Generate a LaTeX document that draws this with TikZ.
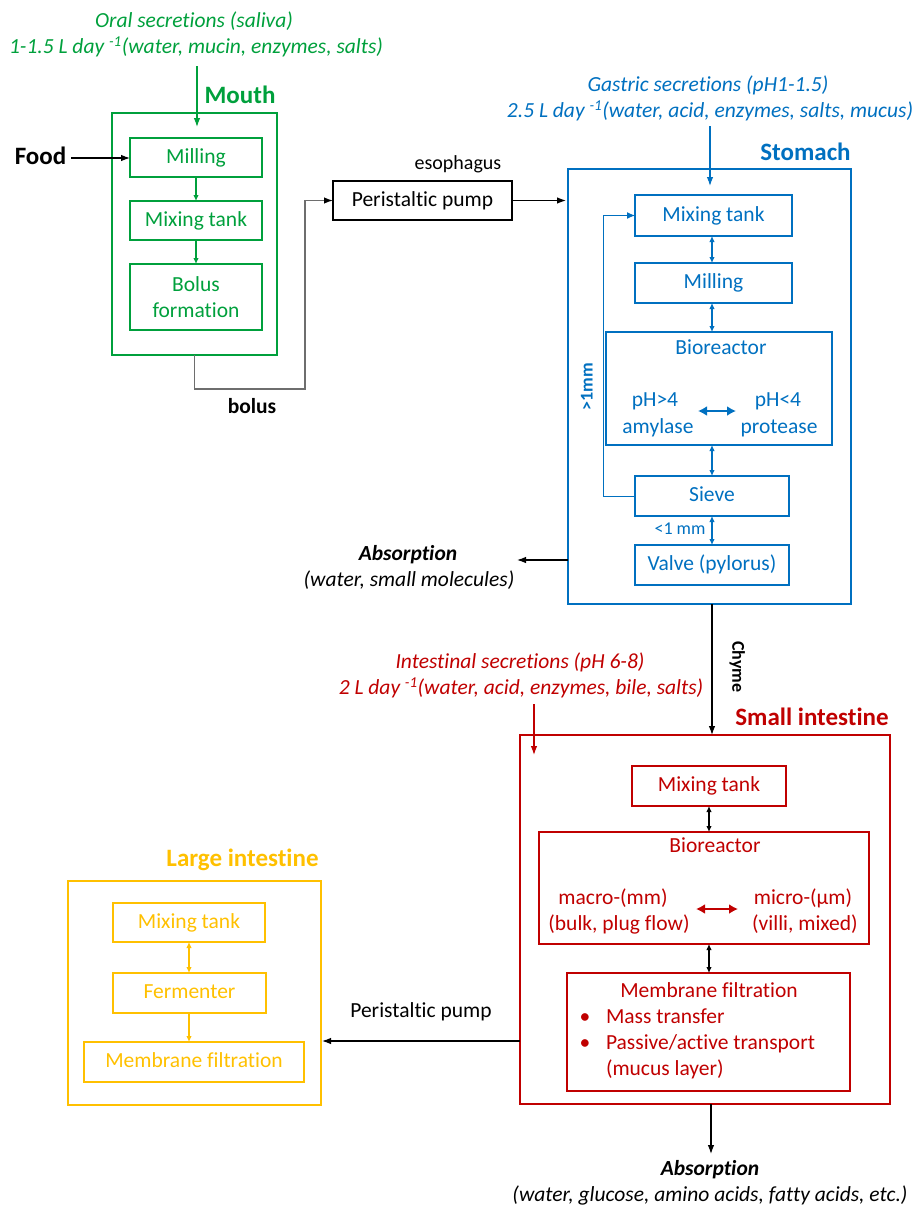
\documentclass[tikz,border=0pt]{standalone}
\usepackage{fontspec}
\setmainfont{Carlito}[Ligatures={NoCommon}]
\usetikzlibrary{arrows.meta}
\definecolor{cgreen}{RGB}{0,160,60}
\definecolor{cblue}{RGB}{0,112,192}
\definecolor{cred}{RGB}{192,0,0}
\definecolor{cyel}{RGB}{255,192,0}
\definecolor{cgray}{RGB}{110,110,110}
\begin{document}
\begin{tikzpicture}[x=1pt,y=-1pt,
  every node/.style={inner sep=0pt, outer sep=0pt},
  txt/.style={font=\fontsize{21.5}{26}\selectfont, text height=15.5pt, text depth=4.3pt},
  itxt/.style={font=\fontsize{21.5}{26}\selectfont\itshape, text height=15.5pt, text depth=4.3pt},
  bitxt/.style={font=\fontsize{21.5}{26}\selectfont\bfseries\itshape, text height=15.5pt, text depth=4.3pt},
  btxt/.style={font=\fontsize{21.5}{26}\selectfont\bfseries, text height=15.5pt, text depth=4.3pt},
  ttl/.style={font=\fontsize{25}{30}\selectfont\bfseries, text height=18pt, text depth=5pt},
  smalltxt/.style={font=\fontsize{18}{22}\selectfont, text height=13pt, text depth=3.6pt},
  smallb/.style={font=\fontsize{18}{22}\selectfont\bfseries, text height=13pt, text depth=3.6pt},
  box/.style={draw, line width=1.8pt, txt},
  conn/.style={line width=1.1pt, -{Latex[length=9pt,width=6.5pt]}},
  sconn/.style={line width=1.1pt, -{Latex[length=6pt,width=5.5pt]}},
  dbl/.style={line width=1.1pt, {Latex[length=6pt,width=5.5pt]}-{Latex[length=6pt,width=5.5pt]}},
  thickdbl/.style={line width=2.6pt, {Latex[length=9pt,width=10pt]}-{Latex[length=9pt,width=10pt]}},
]
\useasboundingbox (0,0) rectangle (917,1208);

% ---------------- Mouth ----------------
\node[itxt, text=cgreen] (oral1) at (194,22) {Oral secretions (saliva)};
\node[itxt, text=cgreen] (oral2) at (196,48) {1-1.5 L day \textsuperscript{-1}(water, mucin, enzymes, salts)};
\node[ttl, text=cgreen] (mouthlbl) at (240,97) {Mouth};
\node[box, draw=cgreen, minimum width=165, minimum height=242] (mouthbox) at (194.5,234) {};
\node[box, draw=cgreen, text=cgreen, minimum width=132, minimum height=39] (m1) at (196,157.5) {Milling};
\node[box, draw=cgreen, text=cgreen, minimum width=132, minimum height=39] (m2) at (196,220.5) {Mixing tank};
\node[draw=cgreen, line width=1.8pt, text=cgreen, font=\fontsize{21.5}{26}\selectfont, align=center, minimum width=132, minimum height=66] (m3) at (196,297) {Bolus\\formation};
\coordinate (oraltop) at (197,66);
\coordinate (oralend) at (197,127);
\draw[conn, cgreen] (oraltop) -- (oralend);
\draw[sconn, cgreen] (m1) -- (m2);
\draw[sconn, cgreen] (m2) -- (m3);

\node[ttl] (food) at (40.5,158) {Food};
\draw[conn] ([xshift=5pt]food.east) -- (food.east -| m1.west);

% bolus / esophagus
\node[box, minimum width=179, minimum height=39] (pump) at (422.5,200.5) {Peristaltic pump};
\node[font=\fontsize{20}{24}\selectfont, text height=14.4pt, text depth=4pt] (esoph) at (458,164) {esophagus};
\coordinate (bc) at (305,389);
\draw[line width=1.3pt, cgray, -{Latex[length=9pt,width=6.5pt,color=black]}] (mouthbox.south) |- (bc) |- (pump.west);
\node[btxt] (bolus) at (252,408) {bolus};

% ---------------- Stomach ----------------
\node[itxt, text=cblue] (gas1) at (708,86) {Gastric secretions (pH1-1.5)};
\node[itxt, text=cblue] (gas2) at (710,112) {2.5 L day \textsuperscript{-1}(water, acid, enzymes, salts, mucus)};
\node[ttl, text=cblue] (stomlbl) at (805.5,154) {Stomach};
\node[box, draw=cblue, minimum width=283, minimum height=435] (stomach) at (709.5,386.5) {};
\coordinate (gastop) at (710,126);
\coordinate (gasend) at (710,186);
\draw[conn, cblue] (gastop) -- (gasend);
\draw[conn] (pump.east) -- ([xshift=-2pt]pump.east -| stomach.west);

\node[box, draw=cblue, text=cblue, minimum width=157, minimum height=41] (s1) at (713.5,215.5) {Mixing tank};
\node[box, draw=cblue, text=cblue, minimum width=157, minimum height=40] (s2) at (713.5,283) {Milling};
\node[box, draw=cblue, minimum width=226, minimum height=113] (s3) at (719,388.5) {};
\node[box, draw=cblue, text=cblue, minimum width=154, minimum height=40] (s4) at (712,496) {Sieve};
\node[box, draw=cblue, text=cblue, minimum width=154, minimum height=40] (s5) at (712,565) {Valve (pylorus)};
\node[txt, text=cblue] (s3t) at (721,349) {Bioreactor};
\node[txt, text=cblue] (pha) at (655,401) {pH>4};
\node[txt, text=cblue] (amy) at (658,428) {amylase};
\node[txt, text=cblue] (phb) at (778,401) {pH<4};
\node[txt, text=cblue] (pro) at (779,428) {protease};
\coordinate (sa) at (698,411);
\coordinate (sb) at (736,411);
\draw[thickdbl, cblue] (sa) -- (sb);
\draw[dbl, cblue] (s1.south -| s4) -- (s2.north -| s4);
\draw[dbl, cblue] (s2.south -| s4) -- (s3.north -| s4);
\draw[dbl, cblue] (s3.south -| s4) -- (s4.north);
\draw[dbl, cblue] (s4.south) -- (s5.north);
\node[smalltxt, text=cblue] (lt1) at (680,530) {<1 mm};
\draw[line width=1pt, cblue, -{Latex[length=8pt,width=7pt]}] (s4.west) -- ++(-32,0) |- (s1.west);
\node[smallb, text=cblue, rotate=90] (gt1) at (588,387) {>1mm};

\coordinate (absS) at (517,560);
\draw[conn] (stomach.west |- absS) -- (absS);
\node[bitxt] (abs1) at (408,555) {Absorption};
\node[itxt] (abs1b) at (409,581) {(water, small molecules)};

% ---------------- Small intestine ----------------
\node[box, draw=cred, minimum width=370, minimum height=369] (si) at (705,919.5) {};
\node[ttl, text=cred] (silbl) at (812,719) {Small intestine};
\draw[conn] (stomach.south -| s4) -- (si.north -| s4);
\node[smallb, rotate=-90] (chyme) at (737,667) {Chyme};
\node[itxt, text=cred] (int1) at (520,663) {Intestinal secretions (pH 6-8)};
\node[itxt, text=cred] (int2) at (521,689) {2 L day \textsuperscript{-1}(water, acid, enzymes, bile, salts)};
\coordinate (inttop) at (534,704);
\coordinate (intend) at (534,755);
\draw[conn, cred] (inttop) -- (intend);

\node[box, draw=cred, text=cred, minimum width=154, minimum height=40] (i1) at (709,786) {Mixing tank};
\node[box, draw=cred, minimum width=330, minimum height=112] (i2) at (704,888) {};
\node[box, draw=cred, minimum width=283, minimum height=118] (i3) at (708.5,1032) {};
\node[txt, text=cred] (i2t) at (715,847) {Bioreactor};
\node[txt, text=cred] (mac1) at (613,899) {macro-(mm)};
\node[txt, text=cred] (mac2) at (619,925) {(bulk, plug flow)};
\node[txt, text=cred] (mic1) at (803,899) {micro-(µm)};
\node[txt, text=cred] (mic2) at (805,925) {(villi, mixed)};
\coordinate (ia) at (696,909);
\coordinate (ib) at (738,909);
\draw[thickdbl, cred] (ia) -- (ib);
\draw[dbl] (i1.south) -- (i1.south |- i2.north);
\draw[dbl] (i2.south -| i1) -- (i3.north -| i1);
\node[txt, text=cred] (i3t) at (709,992) {Membrane filtration};
\node[txt, text=cred] (bul1) at (585,1018) {•};
\node[txt, text=cred] (bul2) at (585,1044) {•};
\node[txt, text=cred, anchor=west] (it1) at (606,1018) {Mass transfer};
\node[txt, text=cred, anchor=west] (it2) at (606,1044) {Passive/active transport};
\node[txt, text=cred, anchor=west] (it3) at (606,1070) {(mucus layer)};

\coordinate (absI) at (711,1154);
\draw[conn] (si.south -| absI) -- (absI);
\node[bitxt] (abs2) at (710,1170) {Absorption};
\node[itxt] (abs2b) at (710,1196) {(water, glucose, amino acids, fatty acids, etc.)};

% ---------------- Large intestine ----------------
\node[ttl, text=cyel] (lilbl) at (242.5,860) {Large intestine};
\node[box, draw=cyel, minimum width=253, minimum height=224] (li) at (194.5,993) {};
\node[box, draw=cyel, text=cyel, minimum width=152, minimum height=39] (l1) at (189,922.5) {Mixing tank};
\node[box, draw=cyel, text=cyel, minimum width=153, minimum height=40] (l2) at (189.5,993) {Fermenter};
\node[box, draw=cyel, text=cyel, minimum width=220, minimum height=40] (l3) at (194,1062) {Membrane filtration};
\draw[dbl, cyel] (l1.south) -- (l1.south |- l2.north);
\draw[sconn, cyel] (l1.south |- l2.south) -- (l1.south |- l3.north);

\coordinate (pp) at (0,1041);
\draw[conn] (si.west |- pp) -- ([xshift=1pt]li.east |- pp);
\node[txt] (pplbl) at (421,1012) {Peristaltic pump};
\end{tikzpicture}
\end{document}
